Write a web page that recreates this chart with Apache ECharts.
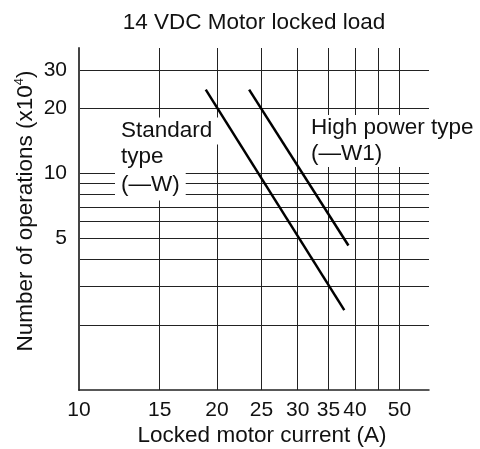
<!DOCTYPE html>
<html>
<head>
<meta charset="utf-8">
<script src="https://cdn.jsdelivr.net/npm/echarts@6/dist/echarts.min.js"></script>
<style>
html, body { margin: 0; background: #fff; }
#chart { width: 480px; height: 449px; }
</style>
</head>
<body>
<div id="chart"></div>
<script>
// x axis: locked motor current (A)
const currentTicks = [15, 20, 25, 30, 35, 40, 45, 50]
const currentLabels = [10, 15, 20, 25, 30, 35, 40, 50]
// y axis: number of operations (x10^4)
const opsTicks = [2, 3, 4, 5, 6, 7, 8, 9, 10, 20, 30]
const opsLabels = [5, 10, 20, 30]

// life lines, [current, operations] end points
const standardType = [[18.9, 24.4], [37.9, 2.34]]
const highPowerType = [[23.5, 24.4], [38.7, 4.65]]

const FONT = '"Liberation Sans", Arial, sans-serif'

const chart = echarts.init(document.getElementById('chart'))

const option = {
  animation: false,
  backgroundColor: '#fff',
  grid: { left: 79, top: 48, right: 51, bottom: 59 },
  xAxis: {
    type: 'log',
    logBase: 10,
    min: 10,
    max: 58,
    axisLine: { show: true, onZero: false, lineStyle: { color: '#222', width: 1.5 } },
    axisTick: { show: false, customValues: currentTicks },
    axisLabel: { customValues: currentLabels, fontSize: 21, color: '#111', margin: 10, fontFamily: FONT },
    splitLine: { show: true, lineStyle: { color: '#222', width: 1 } }
  },
  yAxis: {
    type: 'log',
    logBase: 10,
    min: 1,
    max: 38,
    axisLine: { show: true, lineStyle: { color: '#444', width: 2 } },
    axisTick: { show: false, customValues: opsTicks },
    axisLabel: { customValues: opsLabels, fontSize: 21, color: '#111', margin: 12, fontFamily: FONT },
    splitLine: { show: true, lineStyle: { color: '#222', width: 1 } }
  },
  series: [
    {
      name: 'Standard type',
      type: 'line',
      data: standardType,
      symbol: 'none',
      z: 5,
      lineStyle: { color: '#000', width: 2.5 }
    },
    {
      name: 'High power type',
      type: 'line',
      data: highPowerType,
      symbol: 'none',
      z: 5,
      lineStyle: { color: '#000', width: 2.5 }
    }
  ],
  graphic: [
    {
      type: 'text', x: 254, y: 23, z: 100,
      style: { text: '14 VDC Motor locked load', font: '22.5px ' + FONT, fill: '#111', align: 'center', verticalAlign: 'middle' }
    },
    {
      type: 'text', x: 262, y: 436, z: 100,
      style: { text: 'Locked motor current (A)', font: '22.5px ' + FONT, fill: '#111', align: 'center', verticalAlign: 'middle' }
    },
    {
      type: 'text', x: 26, y: 211, z: 100, rotation: Math.PI / 2,
      style: {
        text: '{a|Number of operations (x10}{s|4}{a|)}',
        align: 'center', verticalAlign: 'middle',
        rich: {
          a: { fontSize: 22.5, fontFamily: FONT, fill: '#111', lineHeight: 26 },
          s: { fontSize: 13, fontFamily: FONT, fill: '#111', verticalAlign: 'top', lineHeight: 26 }
        }
      }
    },
    // standard type label, one box per line
    {
      type: 'text', x: 115, y: 131, z: 100,
      style: { text: 'Standard', font: '22.5px ' + FONT, fill: '#111', align: 'left', verticalAlign: 'middle', backgroundColor: '#fff', padding: [2, 6, 2, 6] }
    },
    {
      type: 'text', x: 115, y: 157, z: 100,
      style: { text: 'type', font: '22.5px ' + FONT, fill: '#111', align: 'left', verticalAlign: 'middle', backgroundColor: '#fff', padding: [2, 6, 2, 6] }
    },
    {
      type: 'text', x: 115, y: 185, z: 100,
      style: { text: '(\u2014W)', font: '22.5px ' + FONT, fill: '#111', align: 'left', verticalAlign: 'middle', backgroundColor: '#fff', padding: [3, 6, 5, 6] }
    },
    // high power type label
    {
      type: 'text', x: 305, y: 141, z: 100,
      style: { text: 'High power type\n(\u2014W1)', font: '22.5px ' + FONT, fill: '#111', align: 'left', verticalAlign: 'middle', lineHeight: 26, backgroundColor: '#fff', padding: [0, 6, 0, 6] }
    }
  ]
}

chart.setOption(option)
</script>
</body>
</html>
